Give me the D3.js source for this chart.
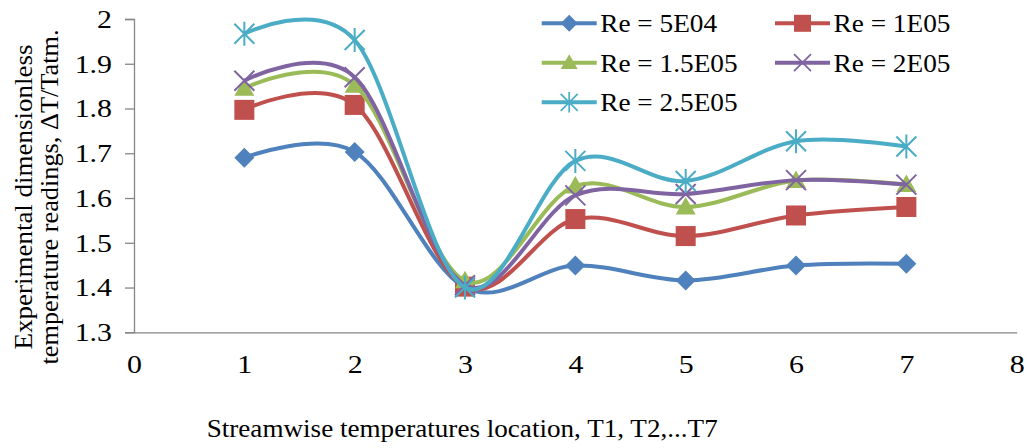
<!DOCTYPE html>
<html>
<head>
<meta charset="utf-8">
<script src="https://cdn.jsdelivr.net/npm/d3@7"></script>
<style>
  body { margin: 0; background: #fff; }
  text { font-family: "Liberation Serif", "Times New Roman", serif; fill: #000; }
</style>
</head>
<body>
<div id="chart"></div>
<script>
var w = 1028;
var h = 448;

// data
var locations = [1, 2, 3, 4, 5, 6, 7];
var seriesNames = ["Re = 5E04", "Re = 1E05", "Re = 1.5E05", "Re = 2E05", "Re = 2.5E05"];
var re5e04  = [1.690, 1.703, 1.400, 1.449, 1.416, 1.449, 1.453];
var re1e05  = [1.797, 1.808, 1.402, 1.553, 1.515, 1.561, 1.580];
var re15e05 = [1.845, 1.852, 1.415, 1.627, 1.580, 1.639, 1.630];
var re2e05  = [1.862, 1.870, 1.405, 1.606, 1.609, 1.640, 1.630];
var re25e05 = [1.967, 1.953, 1.400, 1.683, 1.638, 1.727, 1.715];
var xTicks = [0, 1, 2, 3, 4, 5, 6, 7, 8];
var yTicks = [1.3, 1.4, 1.5, 1.6, 1.7, 1.8, 1.9, 2];

var colors = ["#4F81BD", "#C0504D", "#9BBB59", "#8064A2", "#4BACC6"];
var markers = ["diamond", "square", "triangle", "cross", "star"];
var allValues = [re5e04, re1e05, re15e05, re2e05, re25e05];

var svg = d3.select("#chart")
    .append("svg")
    .attr("width", w)
    .attr("height", h);

var xScale = d3.scaleLinear().domain([0, 8]).range([134, 1016.7]);
var yScale = d3.scaleLinear().domain([1.3, 2]).range([332.3, 19]);
var fs = 26;

// axes
var yAxis = svg.append("g")
    .attr("transform", "translate(" + xScale(0) + ",0)")
    .call(d3.axisLeft(yScale).tickValues(yTicks).tickSize(9).tickPadding(13)
        .tickFormat(function(d) { return d === 2 ? "2" : d3.format(".1f")(d); }));
yAxis.select(".domain").attr("stroke", "#868686").attr("stroke-width", 1.3);
yAxis.selectAll(".tick line").attr("stroke", "#868686").attr("stroke-width", 1.3);
yAxis.selectAll(".tick text")
    .attr("font-size", fs).attr("fill", "#000").attr("dy", "0.32em")
    .attr("x", 0).attr("transform", "translate(-22,0) scale(1.15,1)");

var xAxis = svg.append("g")
    .attr("transform", "translate(0," + yScale(1.3) + ")")
    .call(d3.axisBottom(xScale).tickValues(xTicks).tickSize(0).tickPadding(22).tickSizeOuter(0));
xAxis.select(".domain").attr("stroke", "#868686").attr("stroke-width", 1.3);
xAxis.selectAll(".tick text")
    .attr("font-size", fs).attr("fill", "#000")
    .attr("y", 0).attr("transform", "translate(0,22) scale(1.15,1)");

// axis titles
svg.append("text")
    .attr("x", 206.7)
    .attr("y", 436.7)
    .attr("font-size", fs)
    .attr("textLength", 511)
    .attr("lengthAdjust", "spacingAndGlyphs")
    .text("Streamwise temperatures location, T1, T2,...T7");

var yTitle = svg.append("text")
    .attr("transform", "translate(32,197) rotate(-90)")
    .attr("text-anchor", "middle")
    .attr("font-size", fs);
yTitle.append("tspan").attr("x", 0).attr("y", 0)
    .attr("textLength", 305).attr("lengthAdjust", "spacingAndGlyphs")
    .text("Experimental dimensionless");
yTitle.append("tspan").attr("x", 0).attr("y", 26)
    .attr("textLength", 335).attr("lengthAdjust", "spacingAndGlyphs")
    .text("temperature readings, \u0394T/Tatm.");

// markers
function drawMarker(sel, type, color) {
    var s = 10;
    if (type === "diamond") {
        sel.append("path").attr("d", "M0," + (-s) + "L" + s + ",0L0," + s + "L" + (-s) + ",0Z").attr("fill", color);
    } else if (type === "square") {
        sel.append("rect").attr("x", -s).attr("y", -s).attr("width", 2 * s).attr("height", 2 * s).attr("fill", color);
    } else if (type === "triangle") {
        sel.append("path").attr("d", "M0," + (-s) + "L" + s + "," + (s * 0.75) + "L" + (-s) + "," + (s * 0.75) + "Z").attr("fill", color);
    } else if (type === "cross") {
        sel.append("path").attr("d", "M" + (-s) + "," + (-s) + "L" + s + "," + s + "M" + (-s) + "," + s + "L" + s + "," + (-s))
            .attr("stroke", color).attr("stroke-width", 2).attr("fill", "none");
    } else if (type === "star") {
        sel.append("path").attr("d", "M" + (-s) + "," + (-s) + "L" + s + "," + s + "M" + (-s) + "," + s + "L" + s + "," + (-s) + "M0," + (-s * 1.2) + "L0," + (s * 1.2))
            .attr("stroke", color).attr("stroke-width", 2).attr("fill", "none");
    }
}

var line = d3.line()
    .x(function(d) { return xScale(d.x); })
    .y(function(d) { return yScale(d.y); })
    .curve(d3.curveCardinal.tension(0));

allValues.forEach(function(vals, i) {
    var pts = locations.map(function(x, j) { return { x: x, y: vals[j] }; });
    var g = svg.append("g");
    g.append("path")
        .attr("d", line(pts))
        .attr("fill", "none")
        .attr("stroke", colors[i])
        .attr("stroke-width", 4)
        .attr("stroke-linejoin", "round");
    pts.forEach(function(p) {
        var m = g.append("g").attr("transform", "translate(" + xScale(p.x) + "," + yScale(p.y) + ")");
        drawMarker(m, markers[i], colors[i]);
    });
});

// legend
var legendPos = [[541.7, 23.3], [775, 23.3], [541.7, 62.7], [775, 62.7], [541.7, 102.3]];
seriesNames.forEach(function(name, i) {
    var lg = svg.append("g").attr("transform", "translate(" + legendPos[i][0] + "," + legendPos[i][1] + ")");
    lg.append("line").attr("x1", 0).attr("x2", 55).attr("y1", 0).attr("y2", 0)
        .attr("stroke", colors[i]).attr("stroke-width", 4);
    var m = lg.append("g").attr("transform", "translate(27.5,0) scale(0.85)");
    drawMarker(m, markers[i], colors[i]);
    lg.append("text").attr("x", 0).attr("y", 0).attr("dy", "0.34em")
        .attr("transform", "translate(58.5,0) scale(1.05,1)")
        .attr("font-size", fs).text(name);
});
</script>
</body>
</html>
